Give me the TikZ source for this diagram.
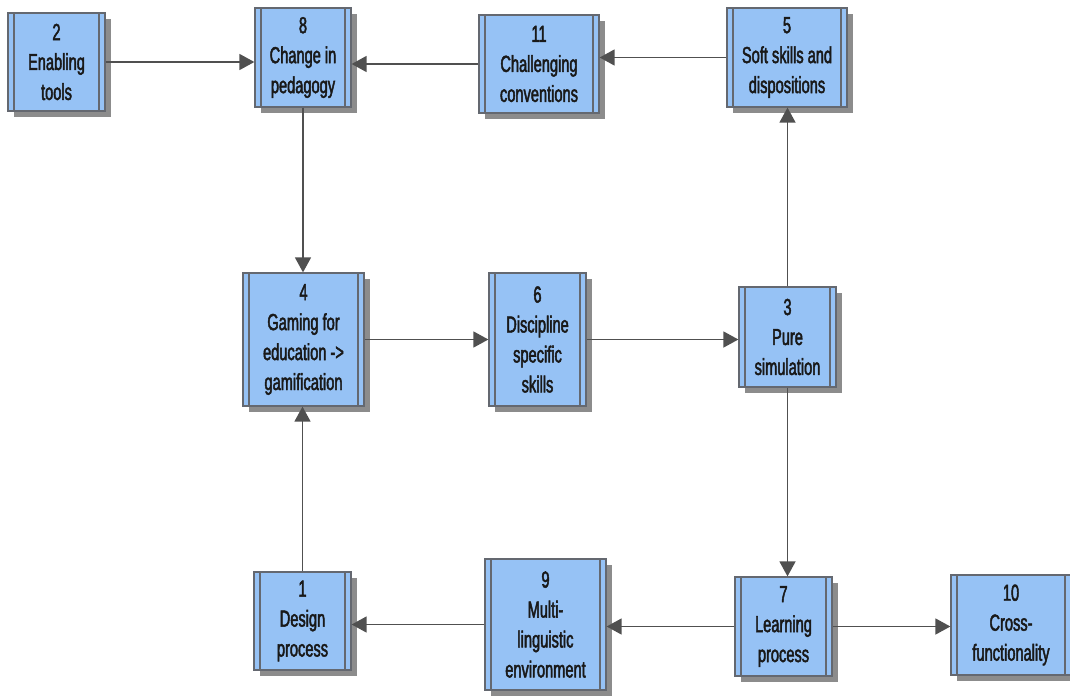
\documentclass[tikz,border=0pt]{standalone}
\usepackage{fontspec}
\setmainfont{Liberation Sans}[FakeStretch=0.63,FakeBold=2]
\usetikzlibrary{shadows,arrows.meta}

\definecolor{boxfill}{RGB}{150,194,245}
\definecolor{boxline}{RGB}{100,104,112}
\definecolor{arrowgray}{RGB}{80,80,80}
\definecolor{shadowgray}{RGB}{140,140,140}

\begin{document}
\begin{tikzpicture}[x=0.025cm,y=-0.025cm,
  % process box with a bar on each side and a grey drop shadow
  proc/.style={rectangle, draw=boxline, fill=boxfill, line width=0.9pt,
    align=center, inner sep=0pt, text=black!90,
    font=\fontsize{16.5}{21.3}\selectfont,
    drop shadow={shadow xshift=0.15cm, shadow yshift=-0.15cm,
      fill=shadowgray, opacity=1},
    path picture={\draw[boxline, line width=0.9pt]
      ([xshift=0.15cm]path picture bounding box.north west) --
      ([xshift=0.15cm]path picture bounding box.south west)
      ([xshift=-0.15cm]path picture bounding box.north east) --
      ([xshift=-0.15cm]path picture bounding box.south east);}},
  sz/.style 2 args={minimum width={#1*0.025cm}, minimum height={#2*0.025cm}},
  arr/.style={draw=arrowgray, line width=1.1pt,
    -{Triangle[length=0.375cm,width=0.4cm]}}]

\fill[white] (0,0) rectangle (1070,696);
\useasboundingbox (0,0) rectangle (1070,696);

% top row
\node[proc, sz={97}{98}]  (n2)  at (56.5,62)   {2\\Enabling\\tools};
\node[proc, sz={96}{99}]  (n8)  at (303,57.5)  {8\\Change in\\pedagogy};
\node[proc, sz={120}{98}] (n11) at (539,64)    {11\\Challenging\\conventions};
\node[proc, sz={120}{99}] (n5)  at (787,57.5)  {5\\Soft skills and\\dispositions};

% middle row
\node[proc, sz={121}{133}] (n4) at (303.5,339.5) {4\\Gaming for\\education ->\\gamification};
\node[proc, sz={97}{133}]  (n6) at (537.5,339.5) {6\\Discipline\\specific\\skills};
\node[proc, sz={97}{100}]  (n3) at (787.5,337)   {3\\Pure\\simulation};

% bottom row
\node[proc, sz={97}{98}]   (n1)  at (302.5,621)  {1\\Design\\process};
\node[proc, sz={121}{131}] (n9)  at (545.5,624.5) {9\\Multi-\\linguistic\\environment};
\node[proc, sz={97}{99}]   (n7)  at (783.5,626.5) {7\\Learning\\process};
\node[proc, sz={120}{100}] (n10) at (1011,625)   {10\\Cross-\\functionality};

% connectors
\draw[arr] (n2.east)  -- (n2.east -| n8.west);
\draw[arr] (n11.west) -- (n11.west -| n8.east);
\draw[arr] (n5.west)  -- (n5.west -| n11.east);
\draw[arr] (n8.south) -- (n8.south |- n4.north);
\draw[arr] (n4.east)  -- (n4.east -| n6.west);
\draw[arr] (n6.east)  -- (n6.east -| n3.west);
\draw[arr] (n3.north) -- (n3.north |- n5.south);
\draw[arr] (n3.south) -- (n3.south |- n7.north);
\draw[arr] (n7.west)  -- (n7.west -| n9.east);
\draw[arr] (n9.west)  -- (n9.west -| n1.east);
\draw[arr] (n7.east)  -- (n7.east -| n10.west);
\draw[arr] (n1.north) -- (n1.north |- n4.south);
\end{tikzpicture}
\end{document}
